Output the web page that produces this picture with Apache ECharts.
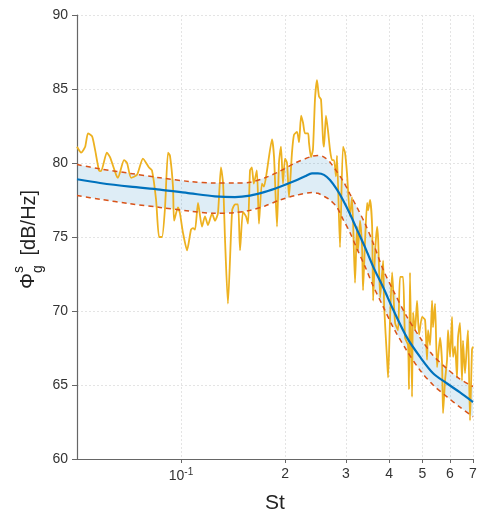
<!DOCTYPE html>
<html>
<head>
<meta charset="utf-8">
<script src="https://cdn.jsdelivr.net/npm/echarts@6/dist/echarts.min.js"></script>
<style>html,body{margin:0;padding:0;background:#fff}#c{width:485px;height:509px}</style>
</head>
<body>
<div id="c"></div>
<script>
// ---- data ----
const stRaw = [0.0500,0.0514,0.0528,0.0538,0.0553,0.0564,0.0579,0.0587,0.0610,0.0623,0.0649,0.0657,0.0684,0.0698,0.0717,0.0746,0.0776,0.0808,0.0824,0.0847,0.0864,0.0881,0.0899,0.0917,0.0929,0.0948,0.0955,0.0980,0.0993,0.1013,0.1041,0.1069,0.1083,0.1098,0.1120,0.1150,0.1173,0.1197,0.1230,0.1254,0.1279,0.1305,0.1324,0.1341,0.1367,0.1406,0.1433,0.1462,0.1482,0.1511,0.1542,0.1563,0.1584,0.1603,0.1624,0.1658,0.1681,0.1714,0.1738,0.1774,0.1834,0.1859,0.1896,0.1922,0.1947,0.1973,0.2000,0.2027,0.2054,0.2095,0.2123,0.2167,0.2196,0.2226,0.2256,0.2285,0.2333,0.2346,0.2377,0.2409,0.2442,0.2475,0.2508,0.2542,0.2576,0.2593,0.2628,0.2663,0.2699,0.2735,0.2772,0.2809,0.2828,0.2885,0.2943,0.2983,0.3023,0.3084,0.3126,0.3189,0.3231,0.3253,0.3297,0.3342,0.3364,0.3410,0.3456,0.3479,0.3526,0.3574,0.3598,0.3647,0.3696,0.3721,0.3771,0.3846,0.3872,0.3949,0.3975,0.4029,0.4083,0.4165,0.4248,0.4305,0.4391,0.4450,0.4539,0.4570,0.4600,0.4663,0.4694,0.4757,0.4821,0.4886,0.4985,0.5085,0.5153,0.5188,0.5258,0.5329,0.5364,0.5436,0.5509,0.5620,0.5695,0.5733,0.5810,0.5888,0.5927,0.6007,0.6087,0.6128,0.6209,0.6292,0.6334,0.6419,0.6505,0.6549,0.6637,0.6726,0.6771,0.6862,0.6954,0.7000];
const dbRaw = [81.1,80.7,81.1,82.0,81.8,80.9,79.5,79.45,80.7,80.4,79.2,79.0,80.2,80.0,79.0,79.2,80.3,79.7,79.5,77.5,75.0,75.0,77.0,80.7,80.5,78.4,76.1,77.0,76.6,75.3,74.1,75.5,75.6,75.5,77.3,75.7,76.4,75.8,76.6,76.1,76.6,79.7,78.6,74.8,70.5,76.8,77.2,77.2,74.1,76.7,76.4,75.9,79.5,79.7,78.6,79.5,75.9,78.6,78.4,79.5,81.6,80.4,75.7,80.1,81.1,78.6,80.3,80.0,77.7,80.7,81.9,82.1,81.4,83.2,82.7,82.0,82.0,81.4,80.4,80.9,84.3,85.6,84.5,84.3,81.6,81.1,83.2,82.2,80.9,80.2,80.2,79.1,80.5,74.3,81.1,80.7,79.3,76.4,77.7,71.9,75.7,74.1,76.1,74.3,71.4,74.8,77.3,76.8,77.5,75.7,70.7,74.1,75.7,74.8,70.9,73.4,70.3,66.7,65.5,69.6,72.6,69.2,68.7,72.3,72.3,68.2,67.7,64.7,72.6,64.2,69.9,68.7,70.7,68.4,69.6,69.4,66.7,68.7,67.7,70.7,68.9,70.5,66.2,68.2,66.5,63.1,65.3,66.7,68.7,66.9,69.6,66.9,67.6,65.5,68.2,69.2,65.3,68.0,65.8,67.8,68.7,62.6,67.4,67.6];

const stFit  = [0.0500,0.0583,0.0712,0.0869,0.1062,0.1254,0.1433,0.1584,0.1750,0.1935,0.2139,0.2285,0.2393,0.2491,0.2593,0.2699,0.2828,0.2943,0.3084,0.3231,0.3410,0.3598,0.3846,0.4111,0.4509,0.4918,0.5364,0.5888,0.6419,0.7000];
const dbFit  = [78.9,78.65,78.4,78.2,77.95,77.75,77.7,77.8,78.05,78.4,78.8,79.1,79.3,79.3,79.2,78.85,78.2,77.5,76.55,75.5,74.3,73.0,71.6,70.1,68.2,66.9,65.8,65.1,64.5,63.85];
const stBound = [0.0500,0.0583,0.0712,0.0869,0.1062,0.1254,0.1433,0.1584,0.1750,0.1935,0.2139,0.2393,0.2491,0.2593,0.2699,0.2828,0.2943,0.3084,0.3231,0.3410,0.3598,0.3846,0.4111,0.4509,0.4918,0.5364,0.5888,0.6419,0.7000];
const dbUpper = [79.9,79.6,79.3,79.0,78.75,78.65,78.65,78.7,79.0,79.45,80.0,80.45,80.5,80.4,80.05,79.4,78.8,77.9,77.0,75.9,74.6,72.8,71.4,69.6,68.2,67.0,66.1,65.4,64.9];
const dbLower = [77.8,77.55,77.25,77.0,76.75,76.6,76.65,76.8,77.1,77.5,77.8,78.0,77.95,77.75,77.5,77.0,76.2,75.3,74.2,73.0,71.7,70.3,68.9,67.3,66.0,65.0,64.2,63.5,62.85];

const xTickValues = [0.1,0.2,0.3,0.4,0.5,0.6,0.7];
const xTickLabels = ['{b|10}{s|-1}','2','3','4','5','6','7'];
const yTicks = [60,65,70,75,80,85,90];

// ---- build ----
const pairs = (xs, ys) => xs.map((x, i) => [x, ys[i]]);

const chart = echarts.init(document.getElementById('c'), null, {renderer: 'canvas'});
const FONT = 'Liberation Sans, Arial, Helvetica, sans-serif';
const option = {
  animation: false,
  backgroundColor: '#fff',
  grid: {left: 77, right: 12, top: 15, bottom: 50, containLabel: false, outerBoundsMode: 'none'},
  xAxis: {
    type: 'log', logBase: 10, min: 0.05, max: 0.7,
    name: 'St', nameLocation: 'middle', nameGap: 34,
    nameTextStyle: {fontSize: 21, color: '#222', fontFamily: FONT},
    axisLine: {show: true, lineStyle: {color: '#666', width: 1.2}},
    axisTick: {show: true, inside: false, length: 4, customValues: xTickValues, lineStyle: {color: '#666'}},
    axisLabel: {
      customValues: xTickValues, margin: 8, color: '#333', fontSize: 14, fontFamily: FONT,
      formatter: v => { const i = xTickValues.findIndex(t => Math.abs(t - v) < 1e-9); return i >= 0 ? xTickLabels[i] : ''; },
      rich: {b: {fontSize: 14, color: '#333', fontFamily: FONT}, s: {fontSize: 10, color: '#333', fontFamily: FONT, verticalAlign: 'top', padding: [0,0,8,0]}}
    },
    splitLine: {show: true, lineStyle: {color: '#e4e4e4', type: [2, 2], width: 1}},
    minorTick: {show: false}, minorSplitLine: {show: false}
  },
  yAxis: {
    type: 'value', min: 60, max: 90, interval: 5,
    axisLine: {show: true, lineStyle: {color: '#666', width: 1.2}},
    axisTick: {show: true, inside: false, length: 5, lineStyle: {color: '#666'}},
    axisLabel: {margin: 9, color: '#333', fontSize: 14, fontFamily: FONT,
      formatter: v => yTicks.includes(v) ? String(v) : ''},
    splitLine: {show: true, lineStyle: {color: '#e4e4e4', type: [2, 2], width: 1}}
  },
  graphic: [{
    type: 'group', x: 28, y: 289, rotation: Math.PI / 2,
    children: [
      {type: 'text', x: 0, y: 0, style: {text: 'Φ', fontSize: 20, fontFamily: FONT, fill: '#222', verticalAlign: 'middle', align: 'left'}},
      {type: 'text', x: 16, y: -9, style: {text: 's', fontSize: 14, fontFamily: FONT, fill: '#222', verticalAlign: 'middle', align: 'left'}},
      {type: 'text', x: 16, y: 10, style: {text: 'g', fontSize: 14, fontFamily: FONT, fill: '#222', verticalAlign: 'middle', align: 'left'}},
      {type: 'text', x: 28, y: 1, style: {text: ' [dB/Hz]', fontSize: 20, fontFamily: FONT, fill: '#222', verticalAlign: 'middle', align: 'left'}}
    ]
  }],
  series: [
    {type: 'custom', name: 'band', data: pairs(stBound, dbUpper), silent: true, z: 1,
     renderItem: (params, api) => {
       if (params.dataIndex !== 0) return null;
       const pts = [];
       for (let i = 0; i < stBound.length; i++) pts.push(api.coord([stBound[i], dbUpper[i]]));
       for (let i = stBound.length - 1; i >= 0; i--) pts.push(api.coord([stBound[i], dbLower[i]]));
       return {type: 'polygon', shape: {points: pts}, style: {fill: 'rgba(0,114,189,0.13)'}};
     }},
    {type: 'line', name: 'raw', data: pairs(stRaw, dbRaw), symbol: 'none', smooth: 0.2,
     lineStyle: {color: '#EDB120', width: 1.8}, z: 2},
    {type: 'line', name: 'upper', data: pairs(stBound, dbUpper), symbol: 'none', smooth: 0.3,
     lineStyle: {color: '#D95319', width: 1.5, type: [5, 4]}, z: 3},
    {type: 'line', name: 'lower', data: pairs(stBound, dbLower), symbol: 'none', smooth: 0.3,
     lineStyle: {color: '#D95319', width: 1.5, type: [5, 4]}, z: 3},
    {type: 'line', name: 'fit', data: pairs(stFit, dbFit), symbol: 'none', smooth: 0.3,
     lineStyle: {color: '#0072BD', width: 2.2}, z: 4}
  ]
};
chart.setOption(option);
</script>
</body>
</html>
